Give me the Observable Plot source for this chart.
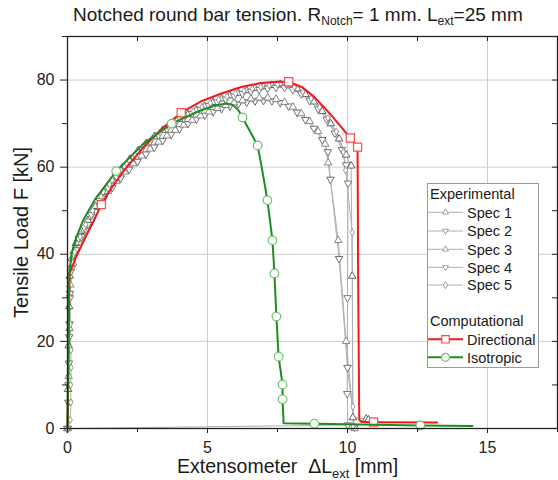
<!DOCTYPE html>
<html><head><meta charset="utf-8">
<script src="https://cdn.jsdelivr.net/npm/d3@7"></script>
<script src="https://cdn.jsdelivr.net/npm/@observablehq/plot@0.6"></script>
<style>
body{margin:0;background:#fff;}
#wrap{position:relative;width:558px;height:480px;font-family:"Liberation Sans",Arial,sans-serif;}
#wrap svg{display:block;}
</style></head>
<body><div id="wrap"></div>
<script>
// ---- tick values ----
const xTicks = [0, 5, 10, 15];
const xMinor = [2.5, 7.5, 12.5, 17.5];
const yTicks = [0, 20, 40, 60, 80];
const yMinor = [10, 30, 50, 70, 90];

// ---- experimental series [extension mm, load kN] ----
const spec1 = [[0,0],[0.02,9],[0.04,19],[0.06,28],[0.08,35],[0.15,39],[0.3,42.5],[0.5,45.3],[0.73,47.8],[1.0,51],[1.3,54.2],[1.6,56.9],[1.9,59.3],[2.2,61.6],[2.5,63.6],[2.8,65.4],[3.1,67],[3.4,68.5],[3.7,69.8],[4.0,71],[4.3,72.1],[4.6,73.1],[4.9,74],[5.2,74.9],[5.5,75.7],[5.8,76.4],[6.1,77],[6.4,77.6],[6.7,78.1],[7.0,78.5],[7.3,78.8],[7.6,79],[7.9,78.9],[8.2,78],[8.5,76.7],[8.8,75],[9.1,72.8],[9.4,70],[9.7,66.5],[9.95,62.8],[10.13,60.3],[10.17,35],[10.19,2.5],[10.67,2.2],[10.75,2.0]];
const spec2 = [[0,0],[0.03,6],[0.05,15],[0.07,24],[0.09,31],[0.15,36.8],[0.3,41],[0.5,44],[0.73,46.8],[1.0,49.8],[1.3,52.8],[1.6,55.3],[1.9,57.5],[2.2,59.5],[2.5,61.3],[2.8,63],[3.1,64.6],[3.4,66.1],[3.7,67.5],[4.0,68.8],[4.3,70],[4.6,71],[4.9,71.9],[5.2,72.7],[5.5,73.4],[5.8,74],[6.1,74.5],[6.4,74.9],[6.7,75.2],[7.0,75.3],[7.3,75.2],[7.6,74.8],[7.9,74],[8.2,72.6],[8.5,70.9],[8.8,68.9],[9.1,66.3],[9.3,63.5],[9.39,57.2],[9.7,39],[10.0,14],[10.25,0.3]];
const spec3 = [[0,0],[0.04,12],[0.07,23],[0.1,33],[0.2,38],[0.4,42.8],[0.6,45.6],[0.85,48.6],[1.15,51.8],[1.45,54.5],[1.75,56.8],[2.05,58.9],[2.35,60.8],[2.65,62.6],[2.95,64.2],[3.25,65.8],[3.55,67.2],[3.85,68.5],[4.15,69.7],[4.45,70.8],[4.75,71.8],[5.05,72.7],[5.35,73.5],[5.65,74.2],[5.95,74.8],[6.25,75.3],[6.55,75.7],[6.85,75.9],[7.15,75.9],[7.45,75.6],[7.75,74.9],[8.05,73.8],[8.35,72.3],[8.65,70.5],[8.95,68.2],[9.2,65.3],[9.31,61],[9.67,43.2],[9.95,20],[10.25,0]];
const spec4 = [[0,0],[0.03,10],[0.06,21],[0.09,30],[0.12,36],[0.22,40],[0.4,43.6],[0.6,46.2],[0.85,49.1],[1.15,52.3],[1.45,55.2],[1.75,57.8],[2.05,60.2],[2.35,62.3],[2.65,64.2],[2.95,65.9],[3.25,67.4],[3.55,68.8],[3.85,70.1],[4.15,71.2],[4.45,72.3],[4.75,73.2],[5.05,74.1],[5.35,74.9],[5.65,75.6],[5.95,76.3],[6.25,76.9],[6.55,77.4],[6.85,77.8],[7.15,78.1],[7.45,78.3],[7.75,78.3],[8.05,77.8],[8.35,76.8],[8.65,75.3],[8.95,73.4],[9.25,71],[9.55,67.8],[9.8,64],[9.95,60.5],[10.02,56.3],[10.0,30],[9.99,8],[10.01,0.8],[0,0]];
const spec5 = [[0,0],[0.1,2],[0.12,6],[0.11,10],[0.13,14],[0.12,18],[0.1,24],[0.1,30],[0.12,36],[0.25,40.5],[0.45,44],[0.65,46.8],[0.9,50],[1.2,53.3],[1.5,56.1],[1.8,58.6],[2.1,60.9],[2.4,62.9],[2.7,64.8],[3.0,66.4],[3.3,67.9],[3.6,69.3],[3.9,70.6],[4.2,71.7],[4.5,72.8],[4.8,73.8],[5.1,74.7],[5.4,75.5],[5.7,76.2],[6.0,76.9],[6.3,77.5],[6.6,78],[6.9,78.4],[7.2,78.8],[7.5,79],[7.8,79],[8.1,78.4],[8.4,77.3],[8.7,75.8],[9.0,73.8],[9.3,71.3],[9.6,68.2],[9.85,63.5],[9.93,59.3],[10.17,45],[10.19,5],[10.2,0.5]];

// ---- computational series ----
const directional = [[0,0],[0.03,12],[0.05,25],[0.07,35.5],[0.3,39.3],[0.64,43.9],[0.94,47.7],[1.21,51.4],[1.6,55.5],[2.0,59.1],[2.7,64.5],[3.4,69],[4.06,72.5],[4.8,75.2],[5.5,76.9],[6.2,78.4],[6.9,79.3],[7.5,79.6],[7.9,79.6],[8.4,78.3],[8.8,76.2],[9.2,73.5],[9.5,71.3],[9.8,69],[10.1,66.7],[10.36,64.6],[10.38,35],[10.42,2.0],[10.5,1.5],[11.0,1.45],[13.2,1.4]];
const directionalMarkers = [[1.21,51.4],[4.06,72.5],[7.9,79.6],[10.1,66.7],[10.36,64.6],[10.93,1.5]];
const isotropic = [[0,0],[0.02,15],[0.04,28],[0.07,36],[0.16,40.5],[0.3,43.6],[0.55,47.7],[1.0,52.8],[1.74,59.1],[2.7,65.3],[3.72,70.0],[4.7,72.9],[5.3,74.2],[5.69,74.6],[5.9,74.3],[6.1,73.1],[6.25,71.4],[6.5,68.4],[6.79,65.0],[6.95,59.5],[7.14,52.4],[7.32,43.2],[7.39,35.6],[7.46,25.7],[7.54,16.5],[7.68,10.1],[7.68,6.7],[7.72,1.2],[8.82,1.1],[10.5,0.9],[12.6,0.7],[14.46,0.55]];
const isotropicMarkers = [[1.74,59.1],[3.72,70.0],[6.25,71.4],[6.79,65.0],[7.14,52.4],[7.32,43.2],[7.39,35.6],[7.46,25.7],[7.54,16.5],[7.68,10.1],[7.68,6.7],[8.82,1.1],[12.6,0.7]];

const specNames = ["Spec 1","Spec 2","Spec 3","Spec 4","Spec 5"];
const specData = [spec1, spec2, spec3, spec4, spec5];

// styles (kept separate from data)
const specStyle = [
  {symbol:"triangle", rotate:0,   stroke:"#505050", r:2.8},
  {symbol:"triangle", rotate:180, stroke:"#5e5e5e", r:2.8},
  {symbol:"triangle", rotate:0,   stroke:"#7a7a7a", r:2.8},
  {symbol:"triangle", rotate:180, stroke:"#6c6c6c", r:2.8},
  {symbol:"diamond",  rotate:0,   stroke:"#8c8c8c", r:2.2}
];
const RED = "#f51818", GREEN = "#1f8c1f";
const FONT = "'Liberation Sans', Arial, sans-serif";

const X = d => d[0], Y = d => d[1];
const plotW = 558 - 67 - 1, plotH = 480 - 36 - 52;

const marks = [
  Plot.gridX(xTicks.slice(1), {stroke:"#cdcdcd", strokeOpacity:1}),
  Plot.gridY(yTicks.slice(1), {stroke:"#cdcdcd", strokeOpacity:1})
];
specData.forEach((s, i) => {
  marks.push(Plot.line(s, {x:X, y:Y, stroke:"#b0b0b0", strokeWidth:1}));
});
specData.forEach((s, i) => {
  const st = specStyle[i];
  marks.push(Plot.dot(s, {x:X, y:Y, symbol:st.symbol, rotate:st.rotate, r:st.r, stroke:st.stroke, fill:"white", strokeWidth:0.9}));
});
marks.push(
  Plot.line(directional, {x:X, y:Y, stroke:RED, strokeWidth:2}),
  Plot.dot(directionalMarkers, {x:X, y:Y, symbol:"square", r:4.6, stroke:"#ff4a4a", fill:"white", strokeWidth:1.2}),
  Plot.line(isotropic, {x:X, y:Y, stroke:GREEN, strokeWidth:2}),
  Plot.dot(isotropicMarkers, {x:X, y:Y, symbol:"circle", r:4.3, stroke:"#6fc06f", fill:"white", strokeWidth:1.2}),
  Plot.frame({stroke:"#222", strokeWidth:1.3}),
  Plot.axisX(xTicks, {tickSize:5, tickPadding:8, label:null, fontSize:16}),
  Plot.axisX(xMinor, {tickSize:4, tickFormat:() => "", label:null}),
  Plot.axisY(yTicks, {tickSize:7, tickPadding:6, label:null, fontSize:16}),
  Plot.axisY(yMinor, {tickSize:5, tickFormat:() => "", label:null}),
  Plot.tickX([...xTicks, ...xMinor], {x:d => d, insetBottom:plotH - 5, stroke:"#222"}),
  Plot.tickY([...yTicks, ...yMinor], {y:d => d, insetLeft:plotW - 5, stroke:"#222"})
);

const chart = Plot.plot({
  width:558, height:480,
  marginTop:36, marginBottom:52, marginLeft:67, marginRight:1,
  x:{domain:[0,17.5]}, y:{domain:[0,90]},
  style:{fontFamily:FONT, fontSize:"16px", color:"#222", background:"white"},
  marks
});
const wrap = document.getElementById("wrap");
wrap.appendChild(chart);

// ---- text overlay: title and axis labels ----
const ov = d3.select(wrap).append("svg")
  .attr("width",558).attr("height",480)
  .style("position","absolute").style("left","0px").style("top","0px")
  .style("pointer-events","none")
  .attr("font-family", FONT).attr("fill","#1a1a1a");

function subText(g, parts, size, subSize, shift) {
  parts.forEach(p => {
    if (p.sub) g.append("tspan").attr("font-size", subSize).attr("dy", shift).text(p.t);
    else g.append("tspan").attr("font-size", size).attr("dy", p.back ? -shift : 0).text(p.t);
  });
}
const title = ov.append("text").attr("x",73).attr("y",21).attr("font-size",19);
subText(title, [{t:"Notched round bar tension. R"},{t:"Notch",sub:true},{t:"= 1 mm. L",back:true},{t:"ext",sub:true},{t:"=25 mm",back:true}], 19, 12, 4);

const xl = ov.append("text").attr("x",177).attr("y",473).attr("font-size",19.5).attr("xml:space","preserve");
subText(xl, [{t:"Extensometer  \u0394L"},{t:"ext",sub:true},{t:" [mm]",back:true}], 19.5, 13, 5);

ov.append("text").attr("transform","translate(28,232.5) rotate(-90)")
  .attr("text-anchor","middle").attr("font-size",20).text("Tensile Load F [kN]");

// ---- legend ----
const leg = d3.select(wrap).append("svg")
  .attr("width",112).attr("height",185)
  .style("position","absolute").style("left","427px").style("top","183px")
  .attr("font-family", FONT);
leg.append("rect").attr("x",0.5).attr("y",0.5).attr("width",111).attr("height",184)
  .attr("fill","white").attr("stroke","#9a9a9a");
leg.append("text").attr("x",3).attr("y",15.5).attr("font-size",14.5).attr("fill","#1a1a1a").text("Experimental");
const specRows = [29.3, 48, 66.3, 84.3, 102];
const symType = {triangle: d3.symbolTriangle, diamond: d3.symbolDiamond, square: d3.symbolSquare, circle: d3.symbolCircle};
specNames.forEach((n, i) => {
  const cy = specRows[i], st = specStyle[i];
  leg.append("line").attr("x1",1).attr("x2",36).attr("y1",cy).attr("y2",cy).attr("stroke","#b0b0b0");
  leg.append("path").attr("d", d3.symbol(symType[st.symbol], Math.PI*2.2*2.2)())
    .attr("transform",`translate(18.5,${cy}) rotate(${st.rotate})`)
    .attr("fill","white").attr("stroke", "#888").attr("stroke-width",0.8);
  leg.append("text").attr("x",40).attr("y",cy+5.2).attr("font-size",14.5).attr("fill","#1a1a1a").text(n);
});
leg.append("text").attr("x",3).attr("y",143).attr("font-size",14.5).attr("fill","#1a1a1a").text("Computational");
const compRows = [{n:"Directional", cy:156.3, c:RED, mc:"#ff4a4a", s:"square", r:4.2},
                  {n:"Isotropic", cy:174.3, c:GREEN, mc:"#6fc06f", s:"circle", r:4.0}];
compRows.forEach(o => {
  leg.append("line").attr("x1",1).attr("x2",36).attr("y1",o.cy).attr("y2",o.cy).attr("stroke",o.c).attr("stroke-width",2);
  leg.append("path").attr("d", d3.symbol(symType[o.s], Math.PI*o.r*o.r)())
    .attr("transform",`translate(18.5,${o.cy})`)
    .attr("fill","white").attr("stroke",o.mc).attr("stroke-width",1.2);
  leg.append("text").attr("x",40).attr("y",o.cy+5.2).attr("font-size",14.5).attr("fill","#1a1a1a").text(o.n);
});
</script>
</body></html>
